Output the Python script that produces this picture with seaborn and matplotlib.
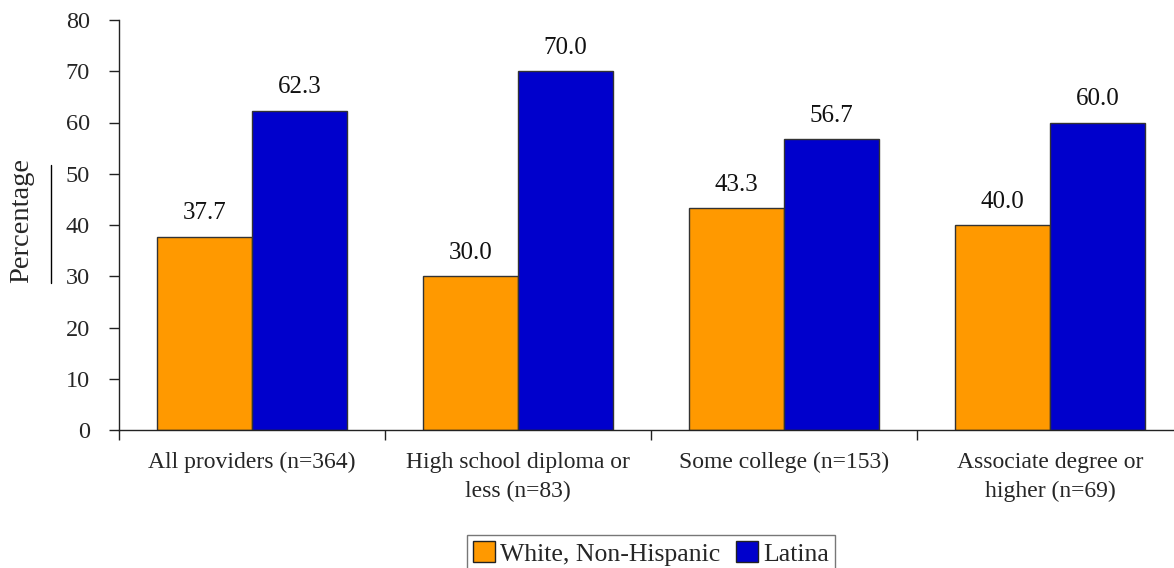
import matplotlib
matplotlib.use("Agg")
import matplotlib.pyplot as plt
from matplotlib.lines import Line2D
import pandas as pd
import seaborn as sns

# Survey groups and share of providers by race/ethnicity
groups = [
    "All providers (n=364)",
    "High school diploma or\nless (n=83)",
    "Some college (n=153)",
    "Associate degree or\nhigher (n=69)",
]
series = ["White, Non-Hispanic", "Latina"]
white_pct = [37.7, 30.0, 43.3, 40.0]
latina_pct = [62.3, 70.0, 56.7, 60.0]
y_ticks = [0, 10, 20, 30, 40, 50, 60, 70, 80]

colors = ["#FF9900", "#0000CC"]

df = pd.DataFrame({
    "group": groups * 2,
    "race": [series[0]] * len(groups) + [series[1]] * len(groups),
    "pct": white_pct + latina_pct,
})

sns.set_theme(style="white")
plt.rcParams["font.family"] = ["Liberation Serif", "DejaVu Serif"]

fig = plt.figure(figsize=(11.74, 5.68), dpi=100)
ax = fig.add_axes([119 / 1174, 1 - 430 / 568, 1064 / 1174, 410 / 568])

sns.barplot(
    data=df, x="group", y="pct", hue="race", hue_order=series,
    palette=colors, saturation=1, width=0.714, gap=0,
    edgecolor="#333333", linewidth=1, errorbar=None, ax=ax,
)

for cont in ax.containers:
    ax.bar_label(cont, fmt="%.1f", padding=9, fontsize=18, color="#111111")

ax.set_ylim(0, 80)
ax.set_xlim(-0.5, 3.5)
ax.set_yticks(y_ticks)
ax.set_yticklabels([str(t) for t in y_ticks], fontsize=17.5)
ax.set_xticks(range(len(groups)))
ax.set_xticklabels(groups, fontsize=17, linespacing=1.45)
ax.set_xticks([-0.5, 0.5, 1.5, 2.5, 3.5], minor=True)
ax.tick_params(axis="x", which="major", length=0, pad=16)
ax.tick_params(axis="x", which="minor", length=7, width=1, color="#222222",
               direction="out", bottom=True)
ax.tick_params(axis="y", length=7, width=1, color="#222222",
               direction="out", left=True, pad=14)
ax.set_xlabel("")
ax.set_ylabel("Percentage", fontsize=20.5)
ax.yaxis.set_label_coords(-0.080, 0.51)

for side in ["top", "right"]:
    ax.spines[side].set_visible(False)
for side in ["left", "bottom"]:
    ax.spines[side].set_color("#222222")
    ax.spines[side].set_linewidth(1)

# thin rule beside the axis title
fig.add_artist(Line2D([51 / 1174, 51 / 1174], [1 - 165 / 568, 1 - 283 / 568],
                      color="black", lw=1))

handles, labels = ax.get_legend_handles_labels()
ax.get_legend().remove()
leg = fig.legend(
    handles, labels, loc="upper center", ncol=2,
    bbox_to_anchor=(651 / 1174, 1 - 535 / 568),
    fontsize=18.5, frameon=True, fancybox=False, edgecolor="#555555",
    handlelength=0.85, handleheight=0.85, handletextpad=0.2,
    columnspacing=0.6, borderpad=0.25, borderaxespad=0,
)
leg.get_frame().set_linewidth(1)
for h in leg.legend_handles:
    h.set_edgecolor("#222222")

fig.savefig("out.png", dpi=100)
